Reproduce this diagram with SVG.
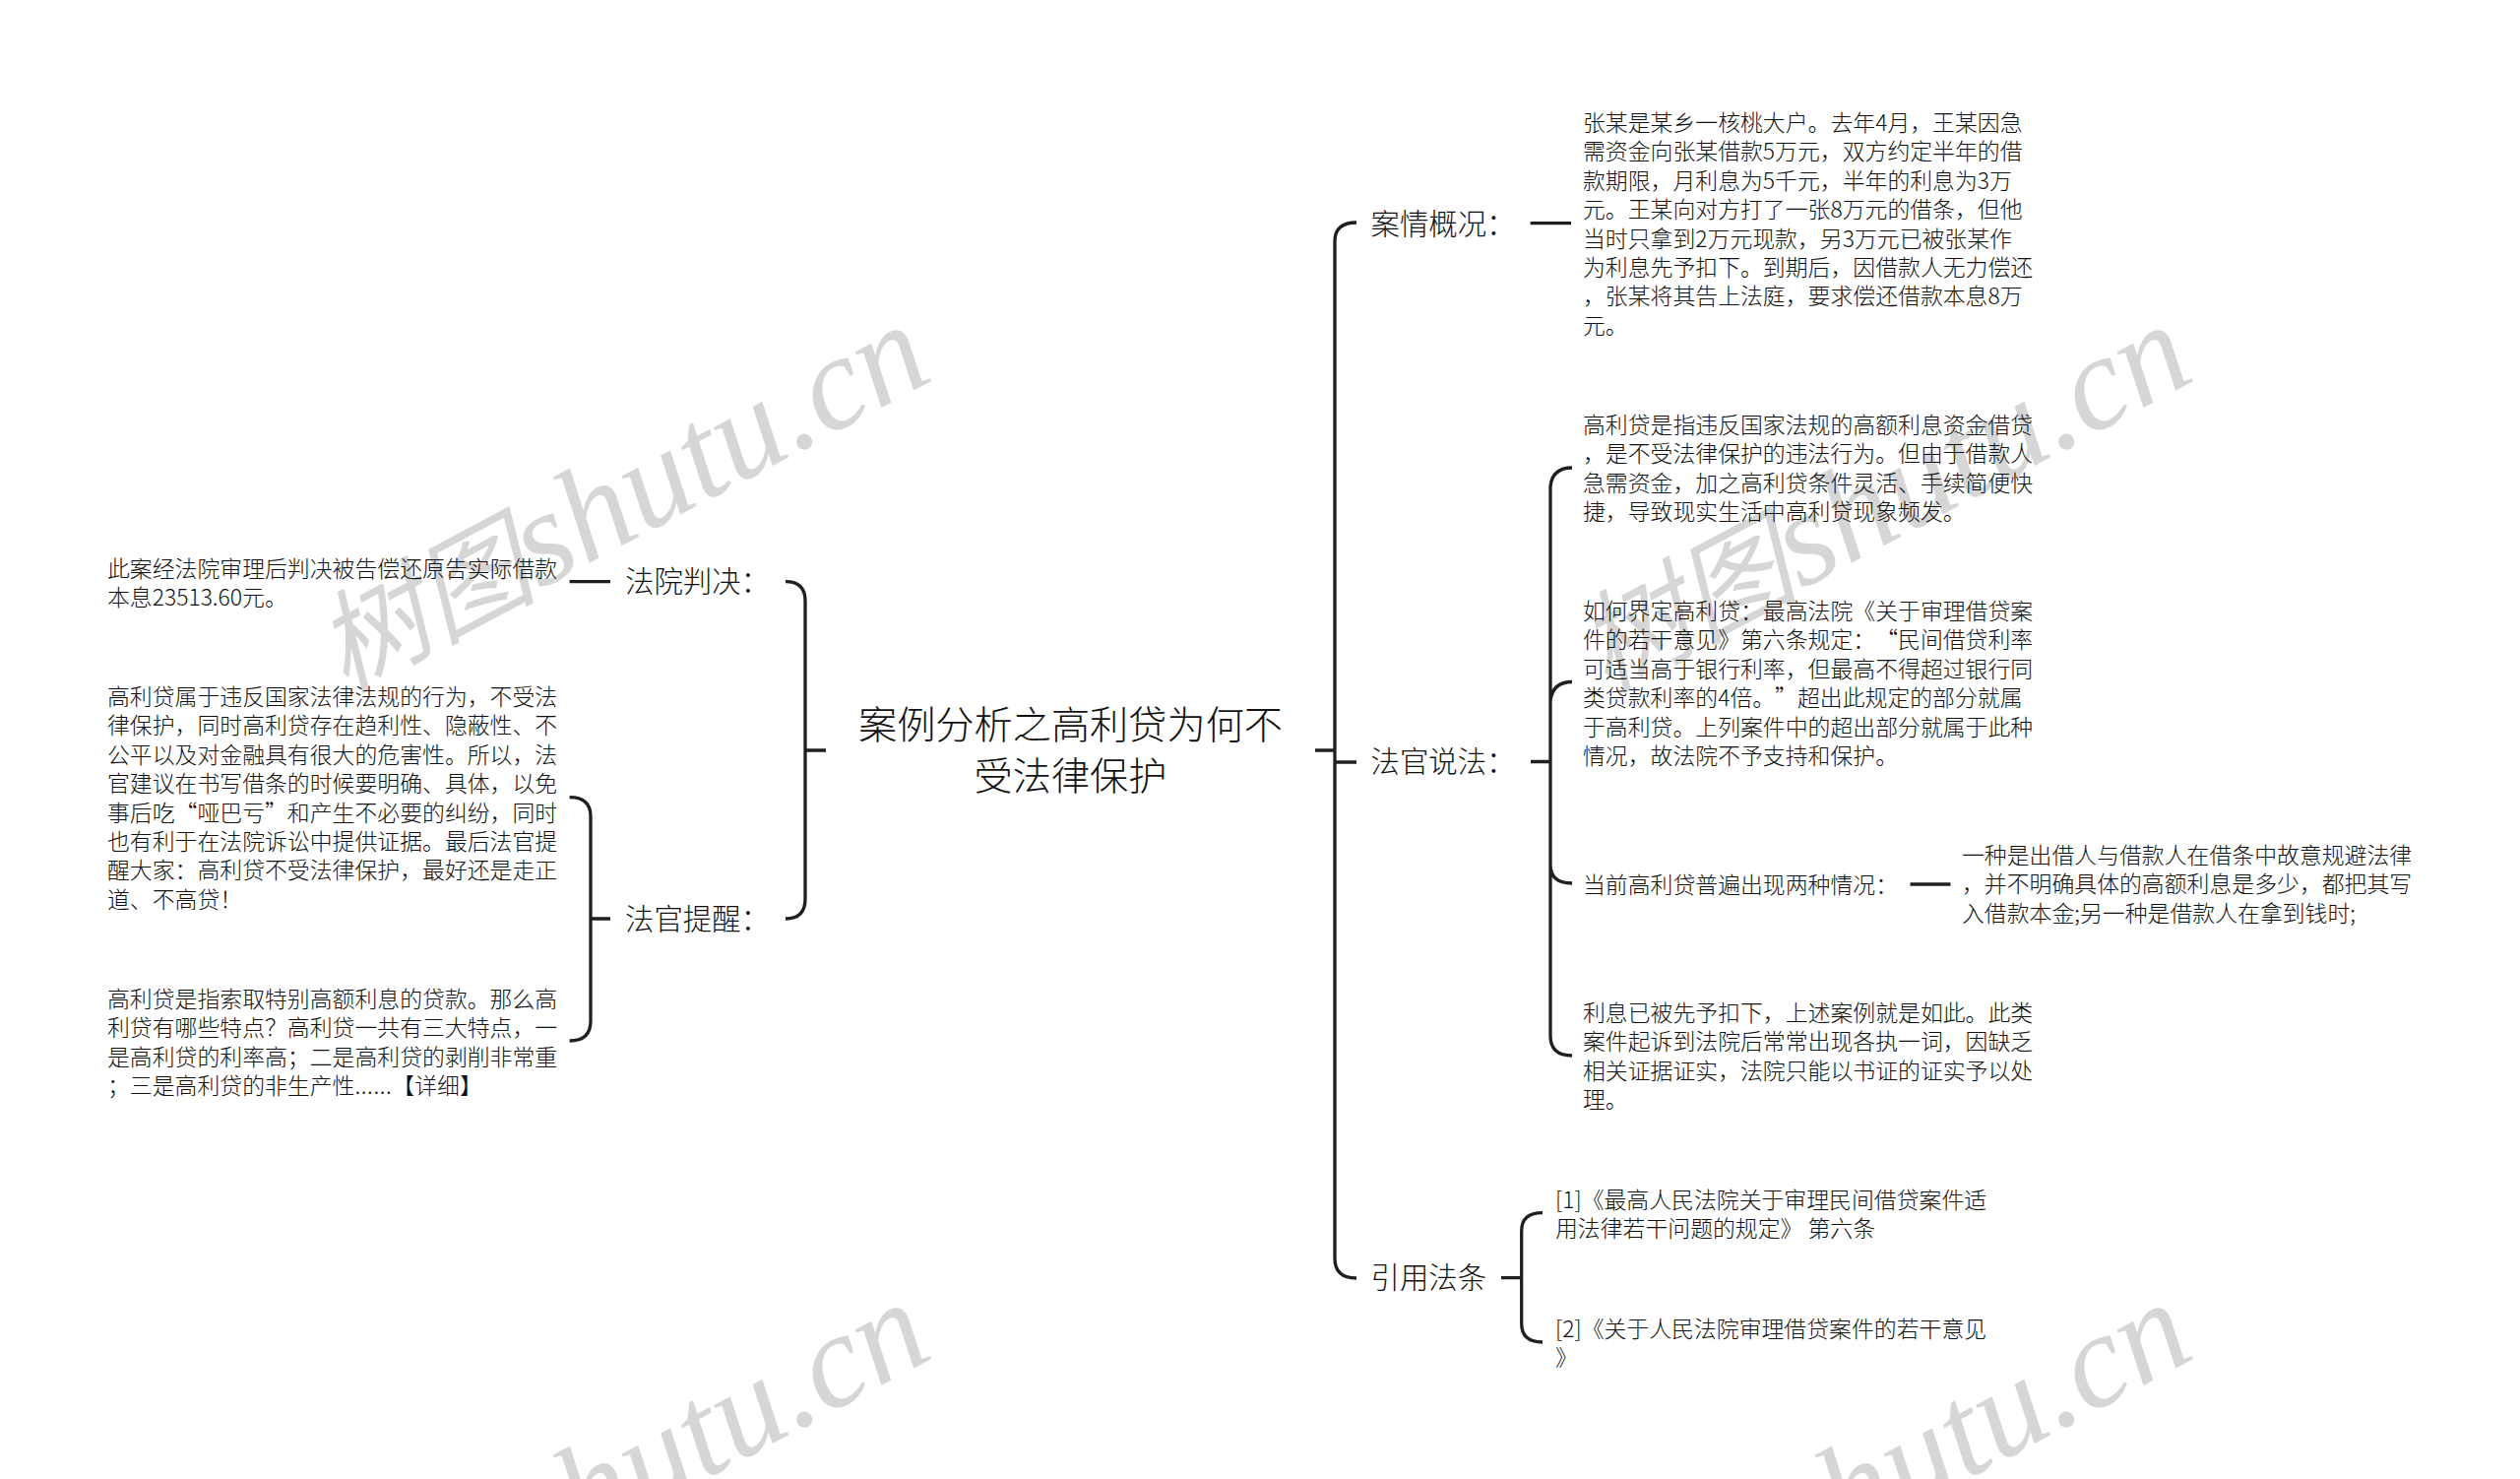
<svg xmlns="http://www.w3.org/2000/svg" width="2560" height="1502" viewBox="0 0 2560 1502">
<style>
text{font-family:"Noto Sans CJK SC","Noto Sans",sans-serif;font-weight:300;fill:#111;text-spacing-trim:space-all}
.t{font-size:22.86px}
.l{font-size:29.4px}
.c{font-size:39.2px;text-anchor:middle}
.w{font-family:"Liberation Serif","Noto Sans CJK SC",serif;font-style:italic;font-weight:400;font-size:136px;fill:#d6d6d6}
.wc{font-size:112px}
.d{letter-spacing:.6px}
.k{fill:none;stroke:#1f1f1f;stroke-width:3.3}
</style>
<rect width="2560" height="1502" fill="#fff"/>
<g id="watermarks">
<text class="w" transform="translate(350,704) rotate(-28)"><tspan class="wc">树图</tspan>shutu.cn</text>
<text class="w" transform="translate(1632,704) rotate(-28)"><tspan class="wc">树图</tspan>shutu.cn</text>
<text class="w" transform="translate(350,1697) rotate(-28)"><tspan class="wc">树图</tspan>shutu.cn</text>
<text class="w" transform="translate(1632,1697) rotate(-28)"><tspan class="wc">树图</tspan>shutu.cn</text>
</g>
<g id="connectors">
<path class="k" d="M839 762H818M798 590.6Q818 590.6 818 610V913Q818 933 798 933"/>
<path class="k" d="M578.6 590.6H620"/>
<path class="k" d="M620 933H600M578.6 809.6Q600 809.6 600 829V1037Q600 1057 578.6 1057"/>
<path class="k" d="M1336 762H1356M1378 226Q1356 226 1356 245V1278Q1356 1298 1378 1298M1356 774H1378"/>
<path class="k" d="M1554.6 226.7H1596"/>
<path class="k" d="M1555 773.5H1575M1597 475Q1577 475 1575 494V1052Q1575 1072 1597 1072M1597 692.5Q1577 692.5 1575 712M1575 878Q1575 897 1597 897"/>
<path class="k" d="M1940.5 898H1981.5"/>
<path class="k" d="M1525 1297.7H1545.7M1567 1231.7Q1545.7 1231.7 1545.7 1250V1344Q1545.7 1363 1567 1363"/>
</g>
<g id="center"><text class="c" x="1087.5" y="750"><tspan x="1087.5">案例分析之高利贷为何不</tspan><tspan x="1087.5" dy="52.3">受法律保护</tspan></text></g>
<g id="n-fayuan"><text class="l" x="635" y="601">法院判决：</text></g>
<g id="n-fayuan-1"><text class="t" x="109" y="586"><tspan x="109">此案经法院审理后判决被告偿还原告实际借款</tspan><tspan x="109" dy="28.6">本息23513.60元。</tspan></text></g>
<g id="n-tixing"><text class="l" x="635" y="943.5">法官提醒：</text></g>
<g id="n-tixing-1"><text class="t" x="109" y="716"><tspan x="109">高利贷属于违反国家法律法规的行为，不受法</tspan><tspan x="109" dy="29.4">律保护，同时高利贷存在趋利性、隐蔽性、不</tspan><tspan x="109" dy="29.4">公平以及对金融具有很大的危害性。所以，法</tspan><tspan x="109" dy="29.4">官建议在书写借条的时候要明确、具体，以免</tspan><tspan x="109" dy="29.4">事后吃“哑巴亏”和产生不必要的纠纷，同时</tspan><tspan x="109" dy="29.4">也有利于在法院诉讼中提供证据。最后法官提</tspan><tspan x="109" dy="29.4">醒大家：高利贷不受法律保护，最好还是走正</tspan><tspan x="109" dy="29.4">道、不高贷！</tspan></text></g>
<g id="n-tixing-2"><text class="t" x="109" y="1023"><tspan x="109">高利贷是指索取特别高额利息的贷款。那么高</tspan><tspan x="109" dy="29.4">利贷有哪些特点？高利贷一共有三大特点，一</tspan><tspan x="109" dy="29.4">是高利贷的利率高；二是高利贷的剥削非常重</tspan><tspan x="109" dy="29.4">；三是高利贷的非生产性<tspan class="d">......</tspan>【详细】</tspan></text></g>
<g id="n-anqing"><text class="l" x="1392.5" y="238">案情概况：</text></g>
<g id="n-anqing-1"><text class="t" x="1608" y="133"><tspan x="1608">张某是某乡一核桃大户。去年4月，王某因急</tspan><tspan x="1608" dy="29.4">需资金向张某借款5万元，双方约定半年的借</tspan><tspan x="1608" dy="29.4">款期限，月利息为5千元，半年的利息为3万</tspan><tspan x="1608" dy="29.4">元。王某向对方打了一张8万元的借条，但他</tspan><tspan x="1608" dy="29.4">当时只拿到2万元现款，另3万元已被张某作</tspan><tspan x="1608" dy="29.4">为利息先予扣下。到期后，因借款人无力偿还</tspan><tspan x="1608" dy="29.4">，张某将其告上法庭，要求偿还借款本息8万</tspan><tspan x="1608" dy="29.4">元。</tspan></text></g>
<g id="n-shuofa"><text class="l" x="1392.5" y="784">法官说法：</text></g>
<g id="n-shuofa-1"><text class="t" x="1608" y="440"><tspan x="1608">高利贷是指违反国家法规的高额利息资金借贷</tspan><tspan x="1608" dy="29.4">，是不受法律保护的违法行为。但由于借款人</tspan><tspan x="1608" dy="29.4">急需资金，加之高利贷条件灵活、手续简便快</tspan><tspan x="1608" dy="29.4">捷，导致现实生活中高利贷现象频发。</tspan></text></g>
<g id="n-shuofa-2"><text class="t" x="1608" y="629"><tspan x="1608">如何界定高利贷：最高法院《关于审理借贷案</tspan><tspan x="1608" dy="29.4">件的若干意见》第六条规定：“民间借贷利率</tspan><tspan x="1608" dy="29.4">可适当高于银行利率，但最高不得超过银行同</tspan><tspan x="1608" dy="29.4">类贷款利率的4倍。”超出此规定的部分就属</tspan><tspan x="1608" dy="29.4">于高利贷。上列案件中的超出部分就属于此种</tspan><tspan x="1608" dy="29.4">情况，故法院不予支持和保护。</tspan></text></g>
<g id="n-shuofa-3"><text class="t" x="1608" y="907">当前高利贷普遍出现两种情况：</text></g>
<g id="n-shuofa-3-1"><text class="t" x="1993" y="877"><tspan x="1993">一种是出借人与借款人在借条中故意规避法律</tspan><tspan x="1993" dy="29.4">，并不明确具体的高额利息是多少，都把其写</tspan><tspan x="1993" dy="29.4">入借款本金;另一种是借款人在拿到钱时;</tspan></text></g>
<g id="n-shuofa-4"><text class="t" x="1608" y="1037"><tspan x="1608">利息已被先予扣下，上述案例就是如此。此类</tspan><tspan x="1608" dy="29.4">案件起诉到法院后常常出现各执一词，因缺乏</tspan><tspan x="1608" dy="29.4">相关证据证实，法院只能以书证的证实予以处</tspan><tspan x="1608" dy="29.4">理。</tspan></text></g>
<g id="n-fatiao"><text class="l" x="1392.5" y="1308">引用法条</text></g>
<g id="n-fatiao-1"><text class="t" x="1580" y="1227"><tspan x="1580">[1]《最高人民法院关于审理民间借贷案件适</tspan><tspan x="1580" dy="29.4">用法律若干问题的规定》 第六条</tspan></text></g>
<g id="n-fatiao-2"><text class="t" x="1580" y="1358"><tspan x="1580">[2]《关于人民法院审理借贷案件的若干意见</tspan><tspan x="1580" dy="29.4">》</tspan></text></g>
</svg>
